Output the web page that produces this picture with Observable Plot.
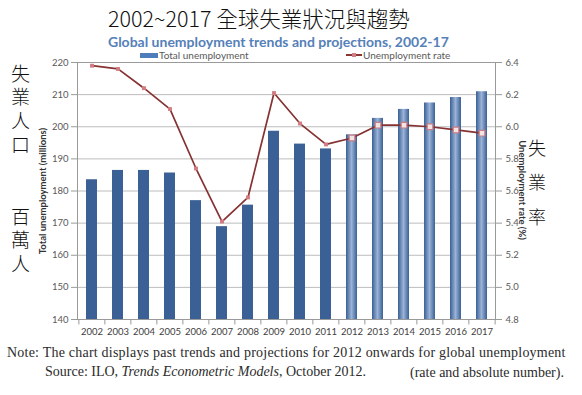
<!DOCTYPE html>
<html><head><meta charset="utf-8">
<script src="https://cdn.jsdelivr.net/npm/d3@7"></script>
<script src="https://cdn.jsdelivr.net/npm/@observablehq/plot@0.6"></script>
<style>
body{margin:0;background:#fff;}
#wrap{position:relative;width:582px;height:395px;overflow:hidden;background:#fff;}
.abs{position:absolute;white-space:nowrap;}
#title{left:108px;top:7px;font-family:"Noto Sans CJK TC",sans-serif;font-weight:300;font-size:21.5px;line-height:22px;color:#111;}
#subtitle{left:108px;top:35px;font-family:Lato,sans-serif;font-weight:bold;font-size:14px;line-height:14px;color:#5580b8;}
.leg{font-family:Lato,sans-serif;font-size:10px;line-height:10px;color:#595959;top:50px;}
.vert{font-family:"Noto Sans CJK TC",sans-serif;font-weight:300;color:#111;writing-mode:vertical-rl;text-orientation:upright;}
.axt{font-family:Lato,sans-serif;font-weight:bold;font-size:9.5px;color:#333;}
.note{font-family:"Liberation Serif",serif;font-size:14px;line-height:14px;color:#2b2b2b;}
#plot{position:absolute;left:0;top:0;}
</style></head><body>
<div id="wrap">
  <div id="plot"></div>
  <div class="abs" id="title">2002~2017 全球失業狀況與趨勢</div>
  <div class="abs" id="subtitle">Global unemployment trends and projections, 2002-17</div>
  <div class="abs" style="left:140px;top:52.5px;width:18px;height:5px;background:#4f7dbb;"></div>
  <div class="abs leg" style="left:159px;">Total unemployment</div>
  <div class="abs" style="left:346px;top:54px;width:16px;height:1.6px;background:#8a3434;"></div>
  <div class="abs" style="left:351.5px;top:52.5px;width:4px;height:4px;background:#d27f84;"></div>
  <div class="abs leg" style="left:363px;">Unemployment rate</div>
  <div class="abs vert" style="left:11px;top:64px;font-size:19px;line-height:19px;letter-spacing:4.6px;">失業人口</div>
  <div class="abs vert" style="left:11px;top:207px;font-size:19px;line-height:19px;letter-spacing:4.4px;">百萬人</div>
  <div class="abs vert" style="left:528px;top:139px;font-size:18px;line-height:18px;letter-spacing:16.5px;">失業率</div>
  <div class="abs axt" style="left:42px;top:191px;transform:translate(-50%,-50%) rotate(-90deg);">Total unemployment (millions)</div>
  <div class="abs axt" style="left:522px;top:190px;transform:translate(-50%,-50%) rotate(90deg);">Unemployment rate (%)</div>
  <div class="abs note" style="left:7px;top:346px;letter-spacing:0.22px;">Note: The chart displays past trends and projections for 2012 onwards for global unemployment</div>
  <div class="abs note" style="left:45px;top:365px;">Source: ILO, <i>Trends Econometric Models</i>, October 2012.</div>
  <div class="abs note" style="left:410px;top:366px;">(rate and absolute number).</div>
</div>
<script>
const years = ["2002","2003","2004","2005","2006","2007","2008","2009","2010","2011","2012","2013","2014","2015","2016","2017"];
const totalUnemployment = [183.5,186.4,186.4,185.6,177.0,168.9,175.6,198.6,194.6,193.1,197.5,202.6,205.4,207.4,209.1,210.9];
const unemploymentRate = [6.38,6.36,6.24,6.11,5.74,5.41,5.56,6.21,6.02,5.89,5.93,6.01,6.01,6.00,5.98,5.96];
const projectionFrom = 2012;
const leftTicks = [140,150,160,170,180,190,200,210,220];
const rightTickLabels = ["4.8","5.0","5.2","5.4","5.6","5.8","6.0","6.2","6.4"];

const rateToY = r => 140 + (r - 4.8) * 50;
const rows = years.map((y, i) => ({year: y, total: totalUnemployment[i], rate: unemploymentRate[i], proj: +y >= projectionFrom}));
const past = rows.filter(d => !d.proj);
const proj = rows.filter(d => d.proj);

const chart = Plot.plot({
  width: 582, height: 395,
  marginTop: 62, marginBottom: 76, marginLeft: 77, marginRight: 87,
  style: {fontFamily: "Lato, sans-serif", fontSize: "9.5px", color: "#595959", background: "transparent", overflow: "visible"},
  x: {type: "band", domain: years, paddingInner: 0.58, paddingOuter: 0.25},
  y: {domain: [140, 220]},
  marks: [
    Plot.gridY(leftTicks, {stroke: "#bcbcbc", strokeOpacity: 1}),
    Plot.barY(past, {x: "year", y1: 140, y2: "total", fill: "#3a6096"}),
    Plot.barY(proj, {x: "year", y1: 140, y2: "total", fill: "url(#projGrad)"}),
    Plot.frame({stroke: "#9a9a9a"}),
    Plot.axisY(leftTicks, {anchor: "left", tickSize: 6, tickPadding: 3, label: null, stroke: "#9a9a9a"}),
    Plot.axisY(leftTicks, {anchor: "right", tickSize: 6, tickPadding: 4, label: null, stroke: "#9a9a9a",
      tickFormat: d => rightTickLabels[leftTicks.indexOf(d)]}),
    Plot.axisX({tickSize: 0, tickPadding: 9, label: null, fill: "#404040", fontSize: 9.5}),
    Plot.ruleX(years, {x: d => d, dx: -13.13, y1: 140, y2: 138.3, stroke: "#9a9a9a"}),
    Plot.ruleX(years.slice(-1), {x: d => d, dx: 13.13, y1: 140, y2: 138.3, stroke: "#9a9a9a"}),
    Plot.line(rows, {x: "year", y: d => rateToY(d.rate), stroke: "#863232", strokeWidth: 1.7}),
    Plot.dot(past, {x: "year", y: d => rateToY(d.rate), symbol: "square", r: 2.2, fill: "#d07c82", stroke: "none"}),
    Plot.dot(proj, {x: "year", y: d => rateToY(d.rate), symbol: "square", r: 3.2, fill: "#f3e4e4", stroke: "#c97c82", strokeWidth: 1.2})
  ]
});

const svg = d3.select(chart);
const defs = svg.insert("defs", ":first-child");
const g = defs.append("linearGradient").attr("id", "projGrad").attr("x1", 0).attr("x2", 1).attr("y1", 0).attr("y2", 0);
[[0, "#3a6096"], [0.5, "#9ab3d6"], [1, "#3a6096"]].forEach(([o, c]) => g.append("stop").attr("offset", o).attr("stop-color", c));
document.getElementById("plot").appendChild(chart);
</script>
</body></html>
